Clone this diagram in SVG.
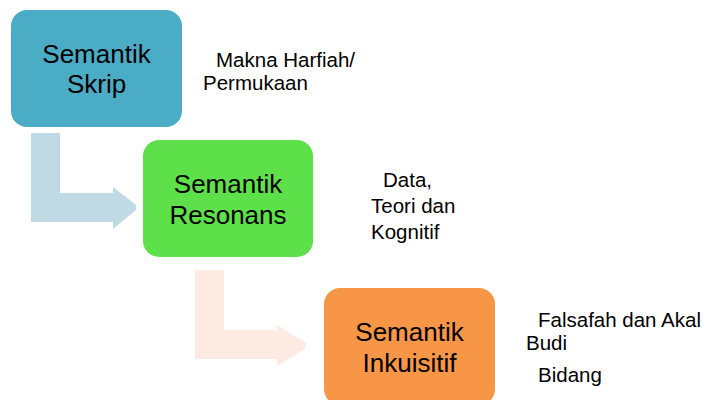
<svg xmlns="http://www.w3.org/2000/svg" width="707" height="400" viewBox="0 0 707 400">
  <style>
    .main { font-family: "Liberation Sans", Arial, sans-serif; font-size: 26px; fill: #000; text-anchor: middle; }
    .side { font-family: "Liberation Sans", Arial, sans-serif; font-size: 20.5px; fill: #000; }
  </style>
  <rect width="707" height="400" fill="#ffffff"/>
  <g id="connectors">
    <path d="M31,133 L60,133 L60,193 L113,193 L113,187 L136,205 L136,210 L113,229 L113,222 L31,222 Z" fill="#C0DAE5"/>
    <path d="M195,270 L224,270 L224,330 L277,330 L277,325 L306,343 L306,348 L277,366 L277,359 L195,359 Z" fill="#FDEBE3"/>
  </g>
  <g id="node-skrip">
    <rect x="11" y="10" width="171" height="117" rx="16" fill="#4BACC6"/>
    <text class="main" x="96.5" y="63">Semantik</text>
    <text class="main" x="96.5" y="93">Skrip</text>
  </g>
  <g id="node-resonans">
    <rect x="143" y="140" width="170" height="117" rx="16" fill="#5EE04A"/>
    <text class="main" x="228" y="193">Semantik</text>
    <text class="main" x="228" y="224">Resonans</text>
  </g>
  <g id="node-inkuisitif">
    <rect x="324" y="288" width="171" height="117" rx="16" fill="#F79646"/>
    <text class="main" x="409.5" y="341">Semantik</text>
    <text class="main" x="409.5" y="372">Inkuisitif</text>
  </g>
  <g id="label-skrip">
    <text class="side" x="216" y="67">Makna Harfiah/</text>
    <text class="side" x="203" y="90">Permukaan</text>
  </g>
  <g id="label-resonans">
    <text class="side" x="383" y="187">Data,</text>
    <text class="side" x="371" y="213">Teori dan</text>
    <text class="side" x="371" y="239">Kognitif</text>
  </g>
  <g id="label-inkuisitif">
    <text class="side" x="538" y="327">Falsafah dan Akal</text>
    <text class="side" x="526" y="350">Budi</text>
    <text class="side" x="538" y="382">Bidang</text>
  </g>
</svg>
